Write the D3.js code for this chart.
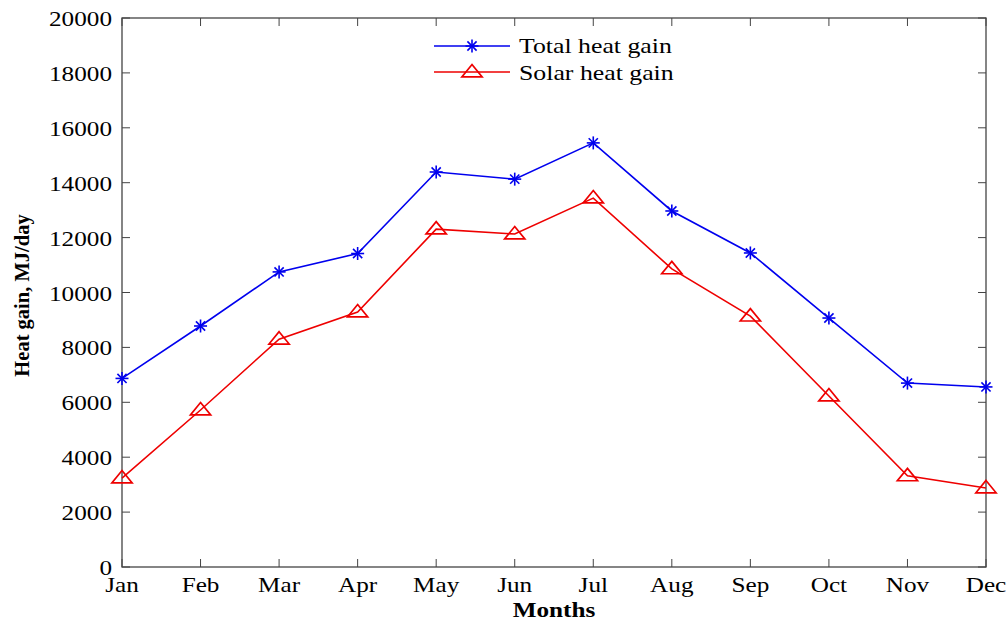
<!DOCTYPE html>
<html>
<head>
<meta charset="utf-8">
<script src="https://cdn.jsdelivr.net/npm/d3@7"></script>
<style>
  body { margin: 0; background: #fff; }
  text { font-family: "Liberation Serif", "Times New Roman", serif; fill: #000; }
</style>
</head>
<body>
<svg width="1008" height="621"></svg>
<script>
const months = ['Jan','Feb','Mar','Apr','May','Jun','Jul','Aug','Sep','Oct','Nov','Dec']
const totalGain = [6870, 8780, 10750, 11420, 14390, 14130, 15450, 12970, 11440, 9070, 6700, 6560]
const solarGain = [3240, 5720, 8300, 9290, 12310, 12130, 13440, 10860, 9140, 6230, 3320, 2880]
const yTicks = [0, 2000, 4000, 6000, 8000, 10000, 12000, 14000, 16000, 18000, 20000]

const svg = d3.select('svg')
const plotL = 122, plotR = 986, plotT = 18, plotB = 567
const sx = 1.2 // the original text looks stretched wide

const x = d3.scalePoint().domain(months).range([plotL, plotR])
const y = d3.scaleLinear().domain([0, 20000]).range([plotB, plotT])

// box
svg.append('rect')
    .attr('x', plotL).attr('y', plotT)
    .attr('width', plotR - plotL).attr('height', plotB - plotT)
    .attr('fill', 'none').attr('stroke', '#444').attr('stroke-width', 1.3)

// ticks, inward on all sides
const tk = 8
const ax = svg.append('g').attr('stroke', '#444').attr('stroke-width', 1)
months.forEach(m => {
    ax.append('line').attr('x1', x(m)).attr('x2', x(m)).attr('y1', plotB).attr('y2', plotB - tk)
    ax.append('line').attr('x1', x(m)).attr('x2', x(m)).attr('y1', plotT).attr('y2', plotT + tk)
})
yTicks.forEach(v => {
    ax.append('line').attr('x1', plotL).attr('x2', plotL + tk).attr('y1', y(v)).attr('y2', y(v))
    ax.append('line').attr('x1', plotR).attr('x2', plotR - tk).attr('y1', y(v)).attr('y2', y(v))
})

svg.append('g').selectAll('text').data(months).enter().append('text')
    .attr('transform', d => `translate(${x(d)},592) scale(${sx},1)`)
    .attr('text-anchor', 'middle').attr('font-size', 21)
    .text(d => d)

svg.append('g').selectAll('text').data(yTicks).enter().append('text')
    .attr('transform', d => `translate(112,${y(d) + 8}) scale(${sx},1)`)
    .attr('text-anchor', 'end').attr('font-size', 21)
    .text(d => d)

svg.append('text')
    .attr('transform', `translate(554,617) scale(${sx},1)`)
    .attr('text-anchor', 'middle').attr('font-size', 21).attr('font-weight', 'bold')
    .text('Months')

svg.append('text')
    .attr('transform', 'translate(29,' + ((plotT + plotB) / 2 + 3) + ') rotate(-90)')
    .attr('text-anchor', 'middle').attr('font-size', 20.5).attr('font-weight', 'bold')
    .text('Heat gain, MJ/day')

const line = d3.line().x((d, i) => x(months[i])).y(d => y(d))

function star(g, cx, cy, color){
    const r = 6.5
    for (let a = 0; a < 180; a += 45) {
        const rad = a * Math.PI / 180
        g.append('line')
            .attr('x1', cx - r * Math.cos(rad)).attr('y1', cy - r * Math.sin(rad))
            .attr('x2', cx + r * Math.cos(rad)).attr('y2', cy + r * Math.sin(rad))
            .attr('stroke', color).attr('stroke-width', 1.6)
    }
}

function tri(g, cx, cy, color){
    const s = 7.5
    g.append('path')
        .attr('d', `M${cx},${cy - s}L${cx + s * 1.35},${cy + s * 0.65}L${cx - s * 1.35},${cy + s * 0.65}Z`)
        .attr('fill', 'none').attr('stroke', color).attr('stroke-width', 1.7)
}

svg.append('path').datum(totalGain).attr('d', line)
    .attr('fill', 'none').attr('stroke', '#0000ee').attr('stroke-width', 1.6)
svg.append('path').datum(solarGain).attr('d', line)
    .attr('fill', 'none').attr('stroke', '#ee0000').attr('stroke-width', 1.6)

const mk = svg.append('g')
totalGain.forEach((v, i) => star(mk, x(months[i]), y(v), '#0000ee'))
solarGain.forEach((v, i) => tri(mk, x(months[i]), y(v), '#ee0000'))

// legend
const lg = svg.append('g')
lg.append('line').attr('x1', 434).attr('x2', 510).attr('y1', 46).attr('y2', 46)
    .attr('stroke', '#0000ee').attr('stroke-width', 1.6)
star(lg, 472, 46, '#0000ee')
lg.append('text').attr('transform', `translate(519,53) scale(${sx},1)`)
    .attr('font-size', 21.5).text('Total heat gain')
lg.append('line').attr('x1', 434).attr('x2', 510).attr('y1', 72).attr('y2', 72)
    .attr('stroke', '#ee0000').attr('stroke-width', 1.6)
tri(lg, 472, 72, '#ee0000')
lg.append('text').attr('transform', `translate(519,80) scale(${sx},1)`)
    .attr('font-size', 21.5).text('Solar heat gain')
</script>
</body>
</html>
